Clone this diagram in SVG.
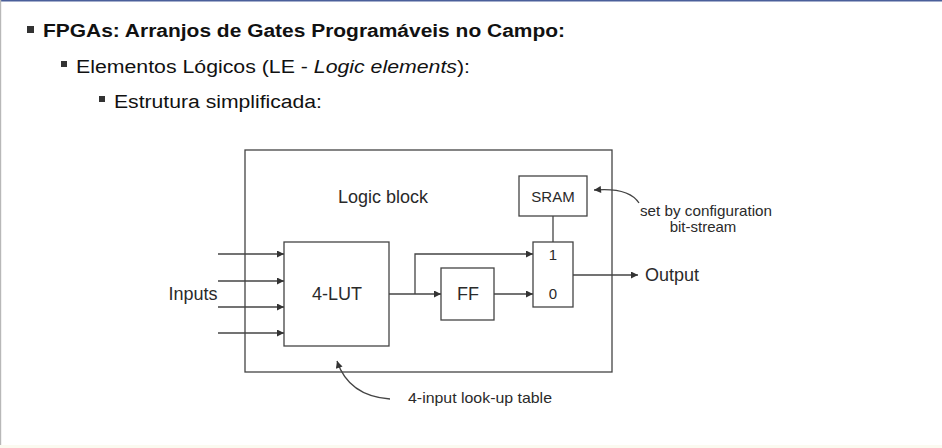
<svg xmlns="http://www.w3.org/2000/svg" width="942" height="448" viewBox="0 0 942 448">
<defs>
<marker id="ah" viewBox="0 0 10 10" refX="10" refY="5" markerWidth="9" markerHeight="7" markerUnits="userSpaceOnUse" orient="auto">
<path d="M0,0 L10,5 L0,10 z" fill="#333"/>
</marker>
<style>
.box{fill:none;stroke:#444;stroke-width:1.3}
.ln{fill:none;stroke:#444;stroke-width:1.3}
.arr{fill:none;stroke:#444;stroke-width:1.3;marker-end:url(#ah)}
.t{font-family:"Liberation Sans",Arial,sans-serif;fill:#2a2a2a}
.big{font-size:18px}
.sm{font-size:15px}
.h{font-family:"Liberation Sans",Arial,sans-serif;fill:#111;font-size:18px}
.b{fill:#333}
</style>
</defs>
<rect x="0" y="0" width="942" height="448" fill="#fff"/>
<rect x="0" y="0" width="942" height="1.5" fill="#4a5f9a"/>
<rect x="0" y="0" width="1.2" height="448" fill="#b8b8b8"/>
<rect x="0" y="445" width="942" height="3" fill="#fbfaf0"/>

<g id="header">
<rect class="b" x="27" y="26" width="7" height="7"/>
<text class="h" x="43" y="37" font-weight="bold" textLength="522" lengthAdjust="spacingAndGlyphs">FPGAs: Arranjos de Gates Programáveis no Campo:</text>
<rect class="b" x="61" y="61" width="6" height="6"/>
<text class="h" x="76" y="73" textLength="394" lengthAdjust="spacingAndGlyphs">Elementos Lógicos (LE - <tspan font-style="italic">Logic elements</tspan>):</text>
<rect class="b" x="99" y="96" width="6" height="6"/>
<text class="h" x="114" y="108" textLength="208" lengthAdjust="spacingAndGlyphs">Estrutura simplificada:</text>
</g>

<g id="logic-block">
<rect class="box" x="245" y="150" width="367" height="222"/>
<text class="t big" x="383" y="203" text-anchor="middle">Logic block</text>
</g>
<g id="lut">
<rect class="box" x="284" y="242" width="105" height="104"/>
<text class="t big" x="337" y="300" text-anchor="middle">4-LUT</text>
</g>
<g id="ff">
<rect class="box" x="441" y="268" width="53" height="52"/>
<text class="t big" x="468" y="300" text-anchor="middle">FF</text>
</g>
<g id="mux">
<rect class="box" x="533" y="242" width="40" height="65"/>
<text class="t sm" x="553" y="260" text-anchor="middle">1</text>
<text class="t sm" x="553" y="299" text-anchor="middle">0</text>
</g>
<g id="sram">
<rect class="box" x="519" y="176" width="68" height="40"/>
<text class="t sm" x="553" y="202" text-anchor="middle">SRAM</text>
</g>
<g id="labels">
<text class="t big" x="193" y="300" text-anchor="middle">Inputs</text>
<text class="t big" x="645" y="281">Output</text>
<text class="t sm" x="706" y="216" text-anchor="middle" textLength="132" lengthAdjust="spacingAndGlyphs">set by configuration</text>
<text class="t sm" x="703" y="232" text-anchor="middle">bit-stream</text>
<text class="t sm" x="408" y="403" textLength="144" lengthAdjust="spacingAndGlyphs">4-input look-up table</text>
</g>

<g id="connectors">
<line class="arr" x1="218" y1="254" x2="284" y2="254"/>
<line class="arr" x1="218" y1="281" x2="284" y2="281"/>
<line class="arr" x1="218" y1="307" x2="284" y2="307"/>
<line class="arr" x1="218" y1="333" x2="284" y2="333"/>
<line class="arr" x1="389" y1="294" x2="441" y2="294"/>
<polyline class="arr" points="415,294 415,254 533,254"/>
<line class="arr" x1="494" y1="294" x2="533" y2="294"/>
<line class="ln" x1="553" y1="216" x2="553" y2="242"/>
<line class="arr" x1="573" y1="275" x2="638" y2="275"/>
<path class="arr" d="M639,203 C632,192 618,188 594,190"/>
<path class="arr" d="M390,399 C362,397 345,385 337,361"/>
</g>
</svg>
